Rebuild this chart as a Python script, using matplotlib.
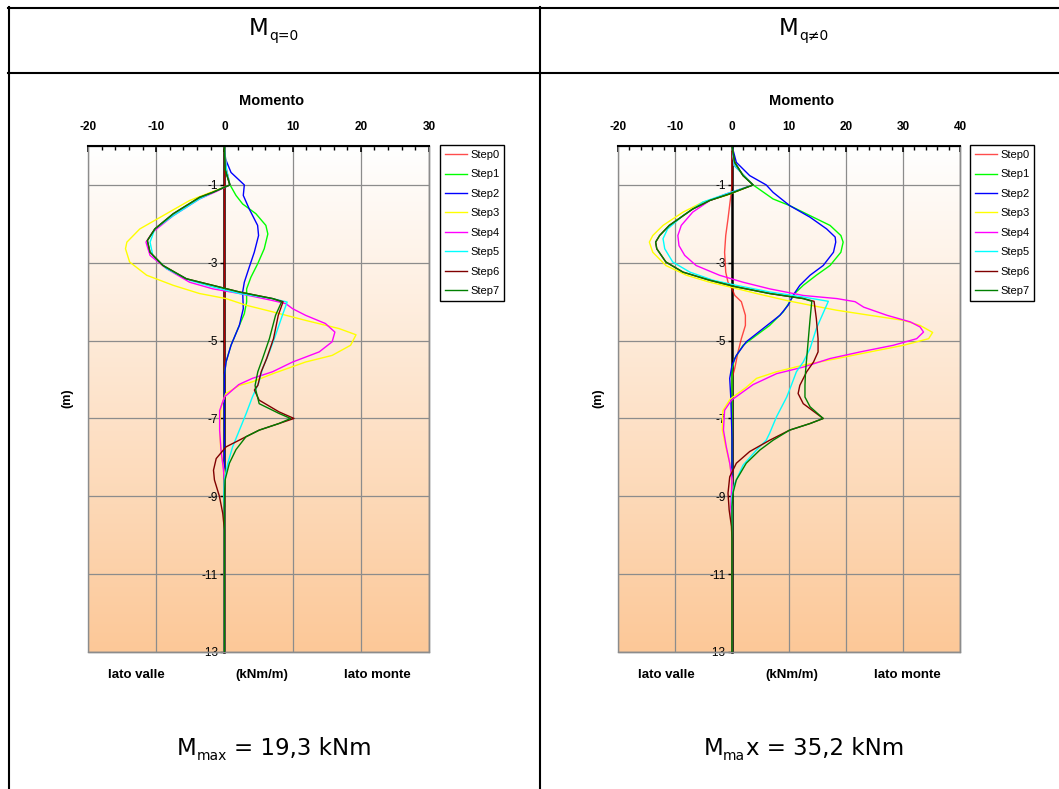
import numpy as np
import matplotlib.pyplot as plt
from matplotlib.lines import Line2D
from matplotlib.patches import Rectangle

plt.rcParams['font.family'] = 'Liberation Sans'
plt.rcParams['axes.unicode_minus'] = False

steps = ["Step0", "Step1", "Step2", "Step3", "Step4", "Step5", "Step6", "Step7"]
colors = ["#FF0000", "#00FF00", "#0000FF", "#FFFF00", "#FF00FF", "#00FFFF", "#800000", "#008000"]

# ---- left chart, q = 0 : depth (m) and moment (kNm/m) ----
L0_z = [0, -13]
L0_m = [0, 0]
L1_z = [0, -0.59, -1.0, -1.27, -1.49, -1.74, -2.04, -2.26, -2.64, -3.03, -3.37, -3.67, -4.01,
        -4.31, -4.61, -5.12, -5.55, -5.89, -7.6, -13]
L1_m = [0, 0.1, 0.83, 1.7, 2.68, 4.62, 6.08, 6.37, 5.84, 4.87, 3.89, 3.26, 3.26,
        2.92, 2.19, 0.97, 0.24, 0, 0, 0]
L2_z = [0, -0.33, -0.68, -1.0, -1.27, -1.62, -2.04, -2.3, -2.73, -3.11, -3.5, -3.75, -4.18,
        -4.61, -5.12, -5.55, -5.89, -7.6, -13]
L2_m = [0, 0.15, 0.97, 2.92, 2.77, 3.65, 4.87, 5.01, 4.38, 3.65, 2.92, 2.68, 2.77,
        2.19, 0.97, 0.24, 0, 0, 0]
L3_z = [0, -0.6, -1.0, -1.17, -1.4, -1.74, -2.13, -2.47, -2.64, -2.98, -3.32, -3.58, -3.79,
        -3.92, -4.09, -4.26, -4.48, -4.69, -4.85, -5.12, -5.38, -5.55, -5.85, -6.06, -6.15,
        -6.36, -6.7, -7.3, -7.9, -8.4, -13]
L3_m = [0, 0.3, 0.8, -1.7, -5.1, -8.5, -12.4, -14.3, -14.5, -13.9, -11.4, -7.5, -3.65,
        0.24, 3.16, 7.06, 11.9, 16.8, 19.3, 18.5, 15.8, 11.9, 7.1, 4.1, 2.2,
        0.2, -0.5, -0.7, -0.5, 0, 0]
L4_z = [0, -0.6, -1.0, -1.17, -1.36, -1.79, -2.21, -2.47, -2.81, -3.15, -3.5, -3.67, -3.79,
        -3.97, -4.05, -4.18, -4.35, -4.56, -4.78, -5.03, -5.29, -5.55, -5.8, -5.97, -6.13,
        -6.45, -6.8, -7.3, -7.8, -8.3, -8.6, -13]
L4_m = [0, 0.3, 0.8, -1.2, -3.65, -7.5, -10.5, -11.5, -10.9, -8.5, -5.1, -1.7, 2.2,
        7.06, 9.0, 10.0, 11.9, 14.8, 16.2, 15.8, 13.9, 10.0, 7.06, 4.1, 2.1,
        0, -0.7, -0.7, -0.5, -0.15, 0, 0]
L5_z = [0, -0.6, -1.0, -1.15, -1.36, -1.79, -2.13, -2.47, -2.81, -3.15, -3.45, -3.62, -3.79,
        -3.92, -4.01, -4.35, -4.86, -5.29, -5.72, -6.1, -6.45, -6.87, -7.3, -7.73, -8.15,
        -8.58, -9.0, -9.3, -13]
L5_m = [0, 0.3, 0.8, -1.2, -3.65, -7.5, -10.2, -10.9, -10.5, -8.5, -5.1, -1.7, 2.2,
        7.06, 9.2, 8.5, 7.5, 6.6, 5.6, 5.0, 4.1, 3.2, 2.2, 1.2, 0.5,
        0, -0.1, 0, 0]
L6_z = [0, -0.6, -1.0, -1.19, -1.32, -1.74, -2.13, -2.43, -2.73, -3.07, -3.41, -3.58, -3.75,
        -3.92, -4.0, -4.35, -4.95, -5.46, -5.8, -6.15, -6.27, -6.53, -6.83, -7.0, -7.13,
        -7.3, -7.47, -7.73, -8.03, -8.33, -8.58, -9.0, -9.44, -9.86, -13]
L6_m = [0, 0.1, 0.8, -1.7, -3.65, -7.5, -10.2, -11.3, -10.9, -9.0, -5.6, -1.7, 2.2,
        7.06, 8.6, 7.9, 7.2, 6.2, 5.4, 4.9, 4.4, 5.1, 8.0, 10.2, 8.0,
        5.1, 3.16, 0.24, -1.2, -1.6, -1.46, -0.73, -0.24, 0, 0]
L7_z = [0, -0.6, -1.0, -1.19, -1.32, -1.74, -2.13, -2.43, -2.73, -3.07, -3.41, -3.58, -3.75,
        -3.92, -4.0, -4.35, -4.95, -5.46, -5.8, -6.15, -6.27, -6.62, -6.87, -7.0, -7.13,
        -7.3, -7.47, -7.8, -8.15, -8.58, -9.0, -13]
L7_m = [0, 0.1, 0.8, -1.7, -3.65, -7.5, -10.2, -11.3, -10.9, -9.0, -5.6, -1.7, 2.2,
        7.06, 8.4, 7.5, 6.6, 5.6, 4.9, 4.5, 4.6, 5.1, 8.0, 9.7, 8.0,
        5.1, 3.16, 1.7, 0.73, 0.1, 0, 0]

# ---- right chart, q != 0 ----
R0_z = [0, -1.0, -1.27, -1.87, -2.3, -2.73, -3.24, -3.5, -3.67, -3.84, -4.0, -4.35, -4.61,
        -4.95, -5.29, -5.72, -5.97, -13]
R0_m = [0, 0, -0.2, -0.7, -1.1, -1.3, -1.1, -0.7, 0, 0.5, 1.64, 2.35, 2.35,
        1.64, 1.06, 0.47, 0, 0]
R1_z = [0, -0.42, -0.76, -1.0, -1.15, -1.36, -1.53, -1.79, -2.04, -2.3, -2.47, -2.73, -3.07,
        -3.32, -3.58, -3.79, -4.01, -4.26, -4.61, -4.86, -5.12, -5.46, -5.72, -13]
R1_m = [0, 0.47, 1.94, 3.7, 5.16, 7.2, 10.1, 13.7, 17.2, 19.1, 19.5, 19.1, 17.2,
        14.8, 12.5, 11.0, 10.1, 9.0, 6.6, 4.3, 1.94, 0.47, 0, 0]
R2_z = [0, -0.42, -0.76, -1.0, -1.19, -1.53, -1.83, -2.13, -2.34, -2.47, -2.73, -3.07, -3.32,
        -3.58, -3.84, -4.09, -4.35, -4.69, -5.03, -5.38, -5.63, -5.97, -6.5, -7.5, -13]
R2_m = [0, 0.76, 3.1, 6.0, 7.2, 10.1, 13.7, 16.6, 18.1, 18.2, 17.8, 16.0, 13.7,
        11.9, 10.7, 9.85, 8.4, 5.45, 2.5, 0.76, 0, -0.4, -0.2, 0, 0]
R3_z = [0, -0.5, -1.0, -1.27, -1.44, -1.7, -2.04, -2.3, -2.47, -2.73, -3.07, -3.32, -3.5,
        -3.62, -3.79, -3.97, -4.09, -4.22, -4.35, -4.48, -4.61, -4.79, -4.95, -5.12, -5.29,
        -5.46, -5.63, -5.8, -5.97, -6.2, -6.5, -6.8, -7.3, -7.73, -8.15, -8.58, -13]
R3_m = [0, 0.4, 3.7, -1.0, -5.1, -8.6, -12.1, -13.9, -14.5, -13.9, -11.6, -8.0, -3.9,
        -0.4, 4.3, 9.6, 13.7, 18.4, 24.2, 30.1, 33.0, 35.2, 34.5, 30.1, 24.2,
        18.4, 12.5, 7.8, 4.3, 2.5, -0.3, -1.6, -1.7, -1.1, -0.4, 0, 0]
R4_z = [0, -0.5, -1.0, -1.23, -1.4, -1.7, -2.04, -2.3, -2.56, -2.81, -3.07, -3.32, -3.5,
        -3.67, -3.84, -3.92, -4.0, -4.14, -4.35, -4.52, -4.65, -4.78, -4.95, -5.12, -5.29,
        -5.46, -5.68, -5.85, -6.13, -6.53, -6.79, -7.3, -7.73, -8.15, -8.58, -9.27, -9.8, -13]
R4_m = [0, 0.4, 3.7, -1.0, -3.9, -6.9, -8.9, -9.5, -9.3, -8.3, -6.3, -2.2, 1.94,
        6.6, 12.5, 18.4, 21.6, 23.1, 27.2, 31.3, 33.0, 33.6, 32.4, 28.3, 22.5,
        17.2, 12.5, 7.8, 3.7, -0.1, -1.3, -1.5, -1.0, -0.4, 0, -0.2, 0, 0]
R5_z = [0, -0.5, -1.0, -1.23, -1.44, -1.79, -2.13, -2.38, -2.64, -2.98, -3.24, -3.45, -3.58,
        -3.75, -3.88, -3.99, -4.69, -5.2, -5.55, -5.8, -6.15, -6.45, -6.96, -7.38, -7.56,
        -7.81, -8.2, -8.67, -9.0, -13]
R5_m = [0, 0.4, 3.7, -1.0, -5.1, -8.6, -11.3, -12.1, -11.8, -10.4, -7.4, -3.3, 0.76,
        6.6, 12.5, 16.9, 14.8, 13.7, 12.5, 11.3, 10.4, 9.6, 7.8, 6.6, 6.0,
        4.3, 1.94, 0.47, 0, 0]
R6_z = [0, -0.42, -0.76, -1.0, -1.23, -1.4, -1.62, -2.04, -2.3, -2.47, -2.64, -2.98, -3.24,
        -3.45, -3.62, -3.79, -3.92, -3.99, -4.44, -4.95, -5.29, -5.55, -5.8, -6.15, -6.36,
        -6.62, -6.87, -7.0, -7.13, -7.3, -7.56, -7.85, -8.15, -8.5, -8.92, -9.35, -9.77, -10.1, -13]
R6_m = [0, 0.47, 1.94, 3.7, -0.4, -3.9, -6.9, -11.0, -12.7, -13.4, -13.2, -11.6, -8.6,
        -3.9, 0.76, 6.6, 12.5, 14.4, 14.8, 15.1, 15.1, 14.3, 13.1, 11.9, 11.6,
        12.5, 14.8, 16.0, 13.7, 10.1, 6.6, 3.1, 0.76, -0.4, -0.7, -0.5, -0.1, 0, 0]
R7_z = [0, -0.42, -0.76, -1.0, -1.23, -1.4, -1.62, -2.04, -2.3, -2.47, -2.64, -2.98, -3.24,
        -3.45, -3.62, -3.79, -3.92, -3.99, -4.44, -4.95, -5.46, -5.8, -6.15, -6.45, -6.7,
        -7.0, -7.13, -7.3, -7.56, -7.81, -8.15, -8.58, -8.92, -9.27, -13]
R7_m = [0, 0.47, 1.94, 3.7, -0.4, -3.9, -6.9, -11.0, -12.7, -13.4, -13.2, -11.6, -8.6,
        -3.9, 0.76, 6.6, 12.5, 14.0, 13.7, 13.4, 13.1, 12.9, 12.8, 12.8, 13.7,
        16.0, 13.7, 10.1, 7.2, 4.9, 2.5, 0.76, 0.17, 0, 0]

left_z = [L0_z, L1_z, L2_z, L3_z, L4_z, L5_z, L6_z, L7_z]
left_m = [L0_m, L1_m, L2_m, L3_m, L4_m, L5_m, L6_m, L7_m]
right_z = [R0_z, R1_z, R2_z, R3_z, R4_z, R5_z, R6_z, R7_z]
right_m = [R0_m, R1_m, R2_m, R3_m, R4_m, R5_m, R6_m, R7_m]

# (text, is_subscript) pieces of the table captions
header_left = [("M", False), ("q=0", True)]
header_right = [("M", False), ("q\u22600", True)]
result_left = [("M", False), ("max", True), (" = 19,3 kNm", False)]
result_right = [("M", False), ("ma", True), ("x = 35,2 kNm", False)]

W, H = 1059, 789
fig = plt.figure(figsize=(W / 100, H / 100), dpi=100)
renderer = fig.canvas.get_renderer()


def fx(px):
    return px / W


def fy(py):
    return 1 - py / H


def caption(xc, ybase, pieces):
    # write main text + subscripts side by side, centred on xc
    arts = []
    total = 0
    for s, sub in pieces:
        lead = len(s) - len(s.lstrip(' '))
        t = fig.text(0, 0, s.lstrip(' '), fontsize=10 if sub else 16.5,
                     family='DejaVu Sans', ha='left', va='baseline')
        w = t.get_window_extent(renderer).width
        gap = 6 * lead
        arts.append((t, sub, gap, w))
        total += gap + w + (1 if sub else 0)
    x = xc - total / 2
    for t, sub, gap, w in arts:
        x += gap
        t.set_position((fx(x), fy(ybase + (5 if sub else 0))))
        x += w + (1 if sub else 0)


def moment_panel(x0_px, x1_px, xmax, zs, ms, cx, lx, mx):
    ax = fig.add_axes([fx(x0_px), fy(652), fx(x1_px - x0_px), (652 - 146) / H])
    ax.set_facecolor('none')
    # background gradient, white on top, peach at bottom
    t = np.linspace(0, 1, 256)[:, None, None]
    top = np.array([1.0, 1.0, 1.0])
    bot = np.array([252, 200, 152]) / 255
    ax.imshow(top + (bot - top) * t, extent=[-20, xmax, -13, 0], aspect='auto',
              origin='upper', zorder=0)

    for z, m, name, c in zip(zs, ms, steps, colors):
        a = 0.7 if name == "Step0" else 1.0
        ax.plot(m, z, color=c, lw=1.0, alpha=a, label=name, zorder=3)

    ax.set_xlim(-20, xmax)
    ax.set_ylim(-13, 0)
    ax.set_xticks(np.arange(-20, xmax + 1, 10))
    ax.set_xticks(np.arange(-20, xmax + 1, 2), minor=True)
    ax.set_yticks(np.arange(-1, -14, -2))
    ax.xaxis.set_ticks_position('top')
    ax.tick_params(axis='x', which='major', direction='in', length=4, width=1.2,
                   labelsize=8.5, pad=9)
    ax.tick_params(axis='x', which='minor', direction='in', length=3, width=1.0)
    ax.tick_params(axis='y', direction='out', length=3, width=1.0, labelsize=8.5, pad=1.5)
    for lab in ax.get_xticklabels() + ax.get_yticklabels():
        lab.set_fontweight('bold')

    ax.grid(True, color='#8c8c8c', lw=0.9)
    ax.set_axisbelow(True)

    ax.spines['left'].set_position(('data', 0))
    ax.spines['left'].set_linewidth(1.8)
    ax.spines['top'].set_linewidth(1.5)
    ax.spines['top'].set_zorder(4)
    for s in ('bottom', 'right'):
        ax.spines[s].set_color('#8c8c8c')
        ax.spines[s].set_linewidth(1.0)
    ax.add_patch(Rectangle((0, 0), 1, 1, transform=ax.transAxes, fill=False,
                           edgecolor='#8c8c8c', lw=1.0, zorder=2.4, clip_on=False))

    leg = ax.legend(loc='upper left', bbox_to_anchor=(fx(lx), fy(145)),
                    bbox_transform=fig.transFigure, fontsize=8, frameon=True,
                    fancybox=False, edgecolor='black', framealpha=1,
                    handlelength=2.0, handletextpad=0.25, labelspacing=0.85,
                    borderpad=0.45, borderaxespad=0)
    leg.get_frame().set_linewidth(1.0)

    fig.text(fx(cx), fy(101), "Momento", ha='center', va='center',
             fontsize=10.5, fontweight='bold')
    fig.text(fx(mx), fy(398), "(m)", ha='center', va='center', rotation=90,
             fontsize=9, fontweight='bold')
    return ax


moment_panel(88, 429, 30, left_z, left_m, 272, 440, 67)
moment_panel(618, 960, 40, right_z, right_m, 802, 970, 598)

bottom_labels = ["lato valle", "(kNm/m)", "lato monte"]
for xs in ([136, 262, 377], [666, 792, 907]):
    for x, s in zip(xs, bottom_labels):
        fig.text(fx(x), fy(675), s, ha='center', va='center', fontsize=9.5, fontweight='bold')

# table frame
for y in (7.5, 72.5):
    fig.add_artist(Line2D([fx(8), 1], [fy(y), fy(y)], color='black', lw=1.5))
for x in (9, 540):
    fig.add_artist(Line2D([fx(x), fx(x)], [fy(6.5), 0], color='black', lw=1.5))

caption(274, 35, header_left)
caption(804, 35, header_right)
caption(274, 755, result_left)
caption(804, 755, result_right)

fig.savefig("out.png", dpi=100)
